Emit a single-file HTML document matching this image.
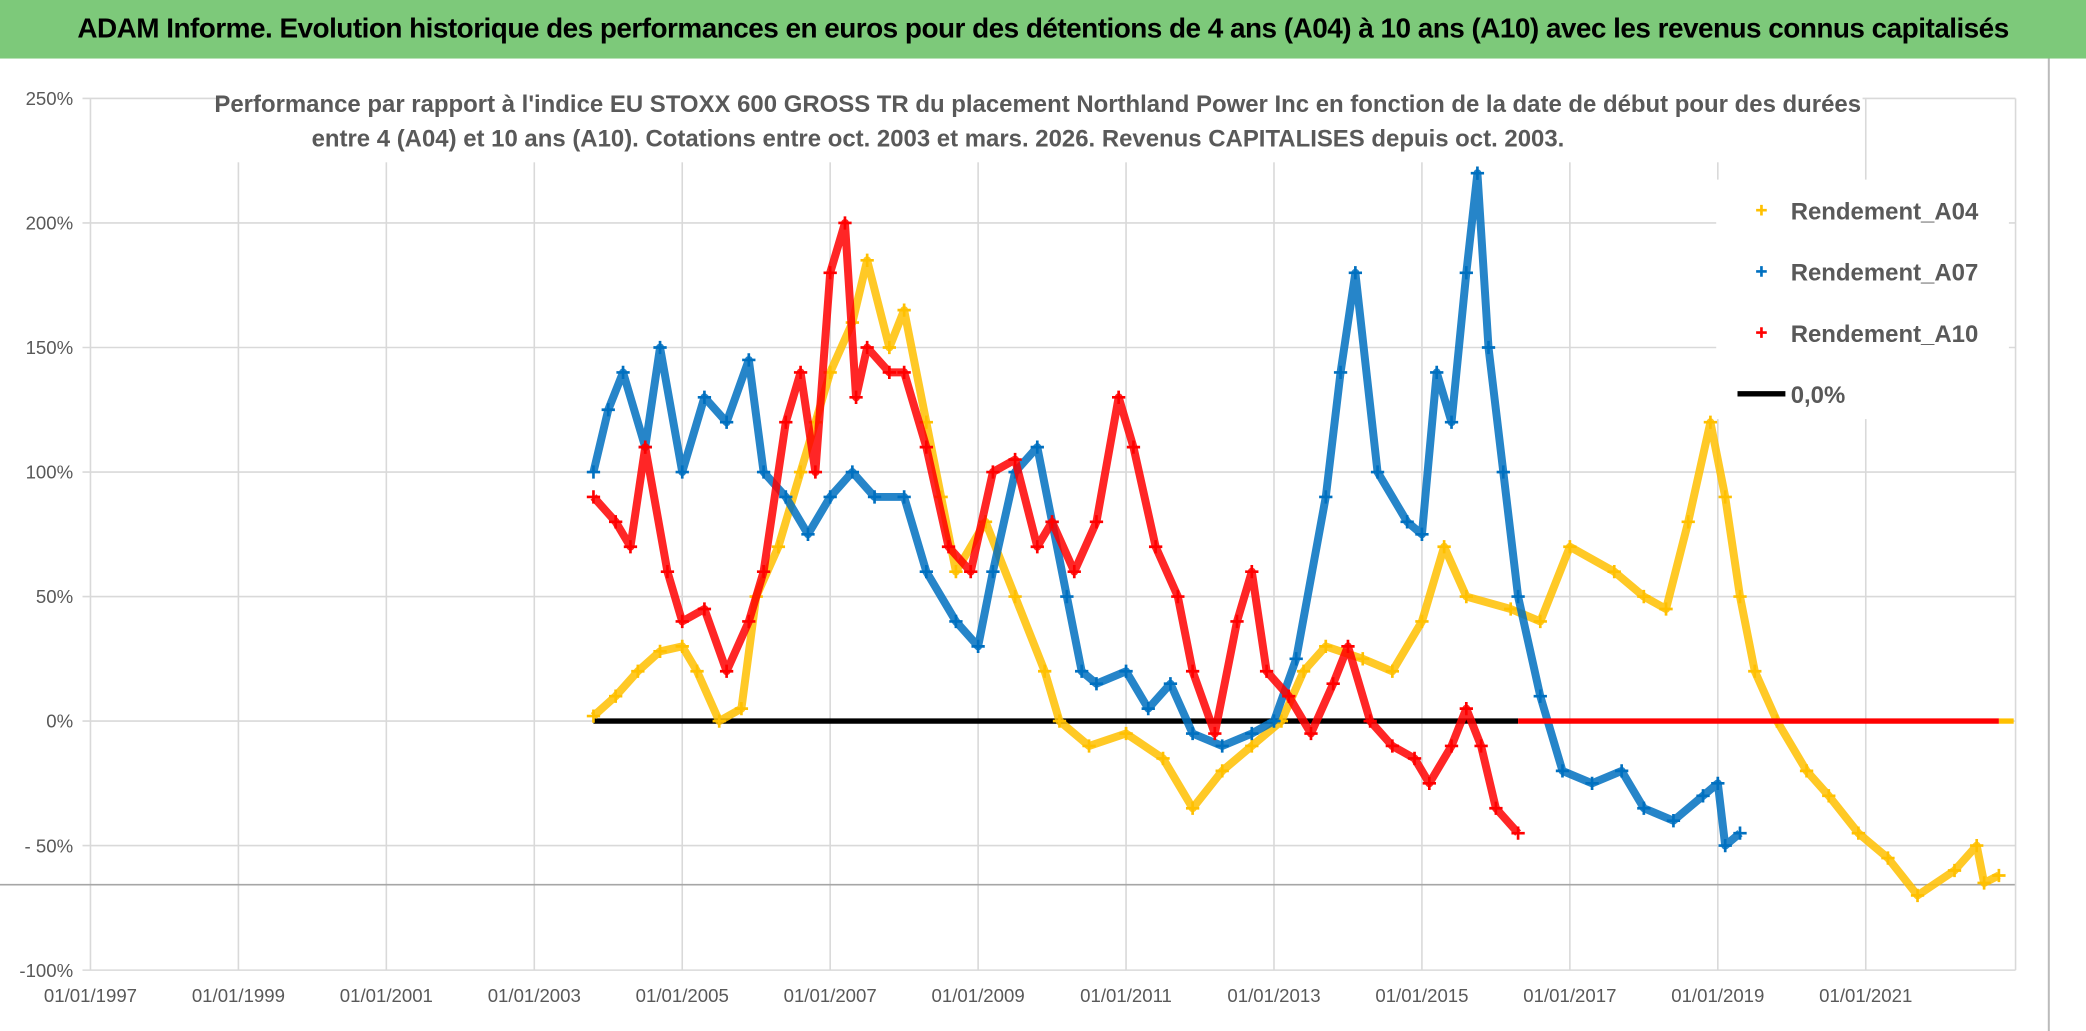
<!DOCTYPE html>
<html><head><meta charset="utf-8">
<style>
html,body{margin:0;padding:0;background:#fff;width:2086px;height:1031px;overflow:hidden;font-family:"Liberation Sans",sans-serif;}
#wrap{position:absolute;left:0;top:0;width:1568px;height:775px;transform:scale(1.3304);transform-origin:0 0;}
#title{position:absolute;left:0;top:0;width:1568px;height:44px;background:#7dc97a;font-weight:bold;font-size:21px;line-height:44px;text-align:center;color:#000;white-space:nowrap;letter-spacing:-0.4px;}
</style></head><body>
<div id="wrap">
<svg id="chart" width="1568" height="775" style="position:absolute;left:0;top:0" xmlns="http://www.w3.org/2000/svg">
<line x1="1540" y1="44" x2="1540" y2="775" stroke="#bbb" stroke-width="1.5"/>
<g id="grid"></g>
<g id="series"></g>
<rect x="170" y="60" width="1230" height="62" fill="#fff"/>
<text x="780" y="84" text-anchor="middle" font-size="18" font-weight="bold" fill="#595959">Performance par rapport à l'indice EU STOXX 600 GROSS TR  du placement Northland Power Inc en fonction de la date de début pour des durées</text>
<text x="705" y="110" text-anchor="middle" font-size="18" font-weight="bold" fill="#595959">entre 4 (A04) et 10 ans (A10). Cotations entre oct. 2003 et mars. 2026. Revenus CAPITALISES depuis oct. 2003.</text>
<g id="legend"></g>
</svg>
<div id="title">ADAM Informe. Evolution historique des performances en euros pour des détentions de 4 ans (A04) à 10 ans (A10) avec les revenus connus capitalisés</div>
</div>
<script>
const yTicks=[250,200,150,100,50,0,-50,-100];
const yTickLabels=["250%","200%","150%","100%","50%","0%","- 50%","-100%"];
const xTicks=[1997,1999,2001,2003,2005,2007,2009,2011,2013,2015,2017,2019,2021];
const xTickLabels=["01/01/1997","01/01/1999","01/01/2001","01/01/2003","01/01/2005","01/01/2007","01/01/2009","01/01/2011","01/01/2013","01/01/2015","01/01/2017","01/01/2019","01/01/2021"];
const a04Dates=[2003.8,2004.1,2004.4,2004.7,2005.0,2005.2,2005.5,2005.8,2006.0,2006.3,2006.6,2006.8,2007.0,2007.3,2007.5,2007.8,2008.0,2008.3,2008.5,2008.7,2009.1,2009.5,2009.9,2010.1,2010.5,2011.0,2011.5,2011.9,2012.3,2012.7,2013.1,2013.4,2013.7,2014.2,2014.6,2015.0,2015.3,2015.6,2016.2,2016.6,2017.0,2017.6,2018.0,2018.3,2018.6,2018.9,2019.1,2019.3,2019.5,2019.8,2020.2,2020.5,2020.9,2021.3,2021.7,2022.2,2022.5,2022.6,2022.8];
const a04Values=[2,10,20,28,30,20,0,5,50,70,100,120,140,160,185,150,165,120,90,60,80,50,20,0,-10,-5,-15,-35,-20,-10,0,20,30,25,20,40,70,50,45,40,70,60,50,45,80,120,90,50,20,0,-20,-30,-45,-55,-70,-60,-50,-65,-62];
const a07Dates=[2003.8,2004.0,2004.2,2004.5,2004.7,2005.0,2005.3,2005.6,2005.9,2006.1,2006.4,2006.7,2007.0,2007.3,2007.6,2008.0,2008.3,2008.7,2009.0,2009.2,2009.5,2009.8,2010.0,2010.2,2010.4,2010.6,2011.0,2011.3,2011.6,2011.9,2012.3,2012.7,2013.0,2013.3,2013.7,2013.9,2014.1,2014.4,2014.8,2015.0,2015.2,2015.4,2015.6,2015.75,2015.9,2016.1,2016.3,2016.6,2016.9,2017.3,2017.7,2018.0,2018.4,2018.8,2019.0,2019.1,2019.3];
const a07Values=[100,125,140,110,150,100,130,120,145,100,90,75,90,100,90,90,60,40,30,60,100,110,80,50,20,15,20,5,15,-5,-10,-5,0,25,90,140,180,100,80,75,140,120,180,220,150,100,50,10,-20,-25,-20,-35,-40,-30,-25,-50,-45];
const a10Dates=[2003.8,2004.1,2004.3,2004.5,2004.8,2005.0,2005.3,2005.6,2005.9,2006.1,2006.4,2006.6,2006.8,2007.0,2007.2,2007.35,2007.5,2007.8,2008.0,2008.3,2008.6,2008.9,2009.2,2009.5,2009.8,2010.0,2010.3,2010.6,2010.9,2011.1,2011.4,2011.7,2011.9,2012.2,2012.5,2012.7,2012.9,2013.2,2013.5,2013.8,2014.0,2014.3,2014.6,2014.9,2015.1,2015.4,2015.6,2015.8,2016.0,2016.3];
const a10Values=[90,80,70,110,60,40,45,20,40,60,120,140,100,180,200,130,150,140,140,110,70,60,100,105,70,80,60,80,130,110,70,50,20,-5,40,60,20,10,-5,15,30,0,-10,-15,-25,-10,5,-10,-35,-45];
const zeroBlack=[2003.8,2016.3];
const zeroRed=[2016.3,2022.8];
const zeroYellow=[2022.8,2023.0];

const NS="http://www.w3.org/2000/svg";
const X=t=>68+(t-1997)*55.6;
const Y=v=>542-v*1.872;
function mk(tag,attrs,parent){const e=document.createElementNS(NS,tag);for(const k in attrs)e.setAttribute(k,attrs[k]);parent.appendChild(e);return e;}
const grid=document.getElementById('grid');
yTicks.forEach((v,i)=>{
  const l=mk('line',{x1:62,x2:1515,y1:Y(v),y2:Y(v),stroke:'#d9d9d9','stroke-width':1.2},grid);
  
  
  const t=mk('text',{x:55,y:Y(v)+5,'text-anchor':'end','font-size':14,fill:'#595959'},grid);
  t.textContent=yTickLabels[i];
  
  
});
xTicks.forEach((v,i)=>{
  const l=mk('line',{x1:X(v),x2:X(v),y1:Y(250),y2:Y(-100),stroke:'#d9d9d9','stroke-width':1.2},grid);
  
  
  const t=mk('text',{x:X(v),y:753,'text-anchor':'middle','font-size':14,fill:'#595959'},grid);
  t.textContent=xTickLabels[i];
  
  
});
const hl=mk('line',{x1:0,x2:1515,y1:665,y2:665,stroke:'#a6a6a6','stroke-width':1.2},grid);


const vr=mk('line',{x1:1515,x2:1515,y1:Y(250),y2:Y(-100),stroke:'#d9d9d9','stroke-width':1.2},grid);



const S=document.getElementById('series');
function series(dates,vals,color,name){
  const g=mk('g',{},S);
  
  
  const pts=dates.map((d,i)=>X(d)+','+Y(vals[i])).join(' ');
  mk('polyline',{points:pts,fill:'none',stroke:color,'stroke-width':6,'stroke-linejoin':'round','stroke-opacity':0.85},g);
  dates.forEach((d,i)=>{
    const x=X(d),y=Y(vals[i]);
    const p=mk('path',{d:`M${x-5},${y}H${x+5}M${x},${y-5}V${y+5}`,stroke:color,'stroke-width':2},g);
    
    
  });
}
function zline(r,color,name){
  const l=mk('line',{x1:X(r[0]),x2:X(r[1]),y1:Y(0),y2:Y(0),stroke:color,'stroke-width':4},S);
  
  
}
zline(zeroBlack,'#000','zero-line');
series(a04Dates,a04Values,'#ffc000','series-a04');
series(a07Dates,a07Values,'#0070c0','series-a07');
series(a10Dates,a10Values,'#ff0000','series-a10');
zline(zeroRed,'#ff0000','a10-zero-segment');
zline(zeroYellow,'#ffc000','a04-zero-segment');

const L=document.getElementById('legend');
mk('rect',{x:1290,y:135,width:220,height:180,fill:'#fff'},L);
const legItems=[["Rendement_A04","#ffc000"],["Rendement_A07","#0070c0"],["Rendement_A10","#ff0000"],["0,0%","#000"]];
legItems.forEach((it,i)=>{
  const y=158+i*46;
  const g=mk('g',{},L);
  
  
  if(i<3){mk('path',{d:`M1320,${y}h8M1324,${y-4}v8`,stroke:it[1],'stroke-width':2},g);}
  else{mk('line',{x1:1306,x2:1342,y1:y,y2:y,stroke:'#000','stroke-width':4},g);}
  const t=mk('text',{x:1346,y:y+7,'font-size':18,'font-weight':'bold',fill:'#595959'},g);
  t.textContent=it[0];
});
</script>
</body></html>
